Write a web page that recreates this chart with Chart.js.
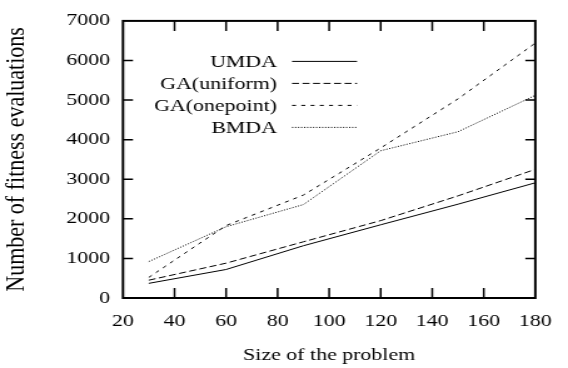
<!DOCTYPE html>
<html>
<head>
<meta charset="utf-8">
<script src="https://cdn.jsdelivr.net/npm/chart.js@4.4.1/dist/chart.umd.min.js"></script>
<style>
  html, body { margin: 0; padding: 0; background: #fff; overflow: hidden; }
  #wrap { width: 568px; height: 368px; overflow: hidden; }
  /* the reference figure is horizontally stretched (~1.25x); reproduce that */
  #c { display: block; transform-origin: 0 0; transform: scaleX(1.2511); }
</style>
</head>
<body>
<div id="wrap"><canvas id="c" width="454" height="368"></canvas></div>
<script>
// ---- data ----
const problemSizes = [30, 60, 90, 120, 150, 180];
const umda        = [370, 720, 1320, 1850, 2370, 2910];
const gaUniform   = [450, 880, 1420, 1955, 2580, 3250];
const gaOnepoint  = [520, 1830, 2600, 3790, 5030, 6440];
const bmda        = [920, 1800, 2360, 3720, 4200, 5120];
const seriesLabels = ['UMDA', 'GA(uniform)', 'GA(onepoint)', 'BMDA'];
const xTitle = 'Size of the problem';
const yTitle = 'Number of fitness evaluations';

const FONT = "'Liberation Serif', 'Times New Roman', serif";
const FS = 17.5;
Chart.defaults.font.family = FONT;
Chart.defaults.font.size = FS;
Chart.defaults.color = '#000';

const dashes = [[], [5.6, 2.8], [3.2, 4.2], [1, 1.4]];
const values = [umda, gaUniform, gaOnepoint, bmda];

const datasets = values.map((vals, i) => ({
  label: seriesLabels[i],
  data: problemSizes.map((x, j) => ({ x: x, y: vals[j] })),
  borderColor: '#000',
  borderWidth: 1,
  borderDash: dashes[i],
  pointRadius: 0,
  fill: false,
  tension: 0
}));

// frame, inward ticks on all four sides, x title and gnuplot-style legend
const framePlugin = {
  id: 'frame',
  afterDatasetsDraw(chart) {
    const { ctx, chartArea: a, scales } = chart;
    ctx.save();
    ctx.strokeStyle = '#000';
    ctx.lineWidth = 1.5;
    const tlV = 10, tlH = 8;
    scales.x.ticks.forEach(t => {
      const px = scales.x.getPixelForValue(t.value);
      if (px <= a.left + 1 || px >= a.right - 1) return;
      ctx.beginPath();
      ctx.moveTo(px, a.bottom); ctx.lineTo(px, a.bottom - tlV);
      ctx.moveTo(px, a.top); ctx.lineTo(px, a.top + tlV);
      ctx.stroke();
    });
    scales.y.ticks.forEach(t => {
      const py = scales.y.getPixelForValue(t.value);
      if (py <= a.top + 1 || py >= a.bottom - 1) return;
      ctx.beginPath();
      ctx.moveTo(a.left, py); ctx.lineTo(a.left + tlH, py);
      ctx.moveTo(a.right, py); ctx.lineTo(a.right - tlH, py);
      ctx.stroke();
    });
    ctx.lineWidth = 2;
    ctx.strokeRect(a.left, a.top, a.right - a.left, a.bottom - a.top);

    ctx.font = FS + 'px ' + FONT;
    ctx.fillStyle = '#000';

    // x axis title, centred under the plot area
    ctx.textAlign = 'center';
    ctx.textBaseline = 'alphabetic';
    ctx.fillText(xTitle, (a.left + a.right) / 2, a.bottom + 62);

    // legend
    ctx.textAlign = 'right';
    ctx.textBaseline = 'middle';
    const textRight = a.left + 123.1;
    const lineStart = a.left + 135.1;
    const lineEnd = a.left + 187.1;
    chart.data.datasets.forEach((ds, i) => {
      const y = a.top + 40.5 + i * 22;
      ctx.fillText(ds.label, textRight, y + 1);
      ctx.beginPath();
      ctx.lineWidth = 1;
      ctx.setLineDash(ds.borderDash || []);
      ctx.moveTo(lineStart, y);
      ctx.lineTo(lineEnd, y);
      ctx.stroke();
      ctx.setLineDash([]);
    });
    ctx.restore();
  }
};

new Chart(document.getElementById('c'), {
  type: 'line',
  data: { datasets },
  plugins: [framePlugin],
  options: {
    responsive: false,
    animation: false,
    events: [],
    layout: { padding: { left: 0, right: 12.8, top: 10, bottom: 0 } },
    plugins: { legend: { display: false }, tooltip: { enabled: false } },
    scales: {
      x: {
        type: 'linear',
        min: 20, max: 180,
        grid: { display: false, drawTicks: false },
        border: { display: false },
        ticks: { stepSize: 20, padding: 13, color: '#000', font: { size: FS } },
        title: { display: false, text: xTitle },
        afterFit(s) { s.height = 70; }
      },
      y: {
        type: 'linear',
        min: 0, max: 7000,
        grid: { display: false, drawTicks: false },
        border: { display: false },
        ticks: { stepSize: 1000, padding: 10.4, color: '#000', font: { size: FS },
                 callback: v => String(v) },
        title: { display: true, text: yTitle, color: '#000', font: { size: 22 }, padding: { top: 0, bottom: 0 } },
        afterFit(s) { s.width = 98.3; }
      }
    }
  }
});
</script>
</body>
</html>
